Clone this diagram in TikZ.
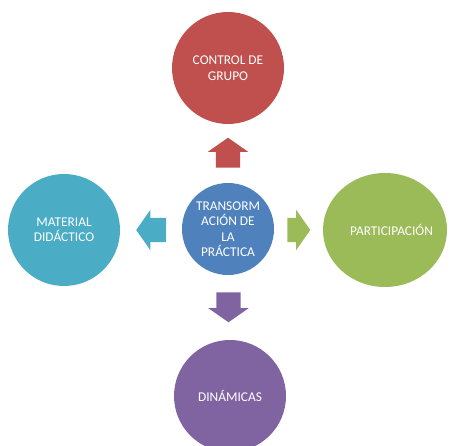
\documentclass[tikz,border=0pt]{standalone}
\usepackage{fontspec}
\setmainfont{Carlito}
\usetikzlibrary{shapes.geometric,shapes.arrows}
\definecolor{red1}{HTML}{C0504D}
\definecolor{blue1}{HTML}{4F81BD}
\definecolor{green1}{HTML}{9BBB59}
\definecolor{purple1}{HTML}{8064A2}
\definecolor{aqua1}{HTML}{4BACC6}
\begin{document}
\begin{tikzpicture}[x=1bp,y=1bp,
    bubble/.style={circle, minimum size=112bp, inner sep=0pt, text=white, align=center,
      font=\fontsize{13.4bp}{15.5bp}\selectfont},
    pointer/.style={single arrow, single arrow head extend=8bp, single arrow tip angle=110,
      inner xsep=0pt, inner ysep=12bp, minimum height=30bp}]
    \useasboundingbox (0,0) rectangle (454,446);
    \node (mid) [bubble, fill=blue1, minimum size=92bp] at (228,217) {TRANSORM\\ACIÓN DE\\LA\\PRÁCTICA};
    \node (top) [bubble, fill=red1] at (228,378) {CONTROL DE\\GRUPO};
    \node (lft) [bubble, fill=aqua1] at (64,216) {MATERIAL\\DIDÁCTICO};
    \node (rgt) [bubble, ellipse, fill=green1, minimum width=124bp, minimum height=114bp] at (385,216) {\makebox[70bp]{\hspace*{13bp}PARTICIPACIÓN}};
    \node (bot) [bubble, fill=purple1] at (230,50) {DINÁMICAS};
    \node (up) [pointer, fill=red1, rotate=90] at (228,289) {};
    \node (lt) [pointer, fill=aqua1, rotate=180] at (155.5,216) {};
    \node (rt) [pointer, fill=green1, minimum height=23bp] at (294.5,216) {};
    \node (dn) [pointer, fill=purple1, rotate=270] at (228.5,143) {};
\end{tikzpicture}
\end{document}
